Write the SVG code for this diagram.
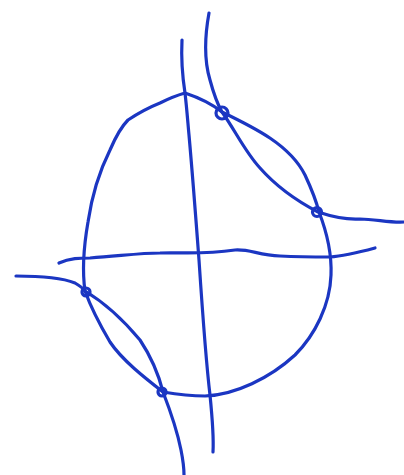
<svg xmlns="http://www.w3.org/2000/svg" width="404" height="475" viewBox="0 0 404 475">
<style>
.s{fill:none;stroke:#1b36c2;stroke-width:3.2;stroke-linecap:round;stroke-linejoin:round}
</style>
<rect width="404" height="475" fill="#ffffff"/>
<g id="oval">
<path class="s" d="M185,93 C200,98 212,104 222,112 C255,128 290,145 305,175 C312,190 316,200 319,212 C326,230 332,250 331,275 C330,305 315,335 295,355 C270,378 235,395 205,396 C190,396 175,394 163,392 C145,378 122,360 110,342 C100,325 90,305 85,291 C82,270 84,245 88,222 C92,195 100,170 110,150 C116,136 122,126 128,120 C140,112 150,107 160,103 C170,98 178,95 185,93 Z"/>
</g>
<g id="vertical">
<path class="s" d="M182,40 C181,60 183,80 185,93 C187,110 188,125 189,135 C193,180 196,220 199,260 C203,320 207,370 210,395 C212,415 214,435 213,452"/>
</g>
<g id="horizontal">
<path class="s" d="M59,263 C70,258 80,258 90,258 C120,256 140,253 160,253 C180,252 200,255 235,250 C250,249 258,255 280,256 C300,257 320,257 330,257 C345,256 360,252 375,248"/>
</g>
<g id="curve-top">
<path class="s" d="M209,13 C205,35 204,60 210,80 C214,95 218,105 222,112 C235,130 245,152 260,168 C275,185 295,200 318,212 C330,216 345,220 360,219 C375,219 390,223 404,222"/>
</g>
<g id="curve-bottom">
<path class="s" d="M16,276 C35,276 60,277 75,283 C80,286 83,288 85,291 C105,303 125,322 140,340 C150,355 158,372 163,392 C170,410 177,430 181,450 C183,460 184,468 184,475"/>
</g>
<g id="loops">
<circle class="s" cx="222" cy="113" r="6"/>
<circle class="s" cx="317" cy="212" r="4.5"/>
<circle class="s" cx="86" cy="292" r="4"/>
<circle class="s" cx="162" cy="392" r="4"/>
</g>
</svg>
